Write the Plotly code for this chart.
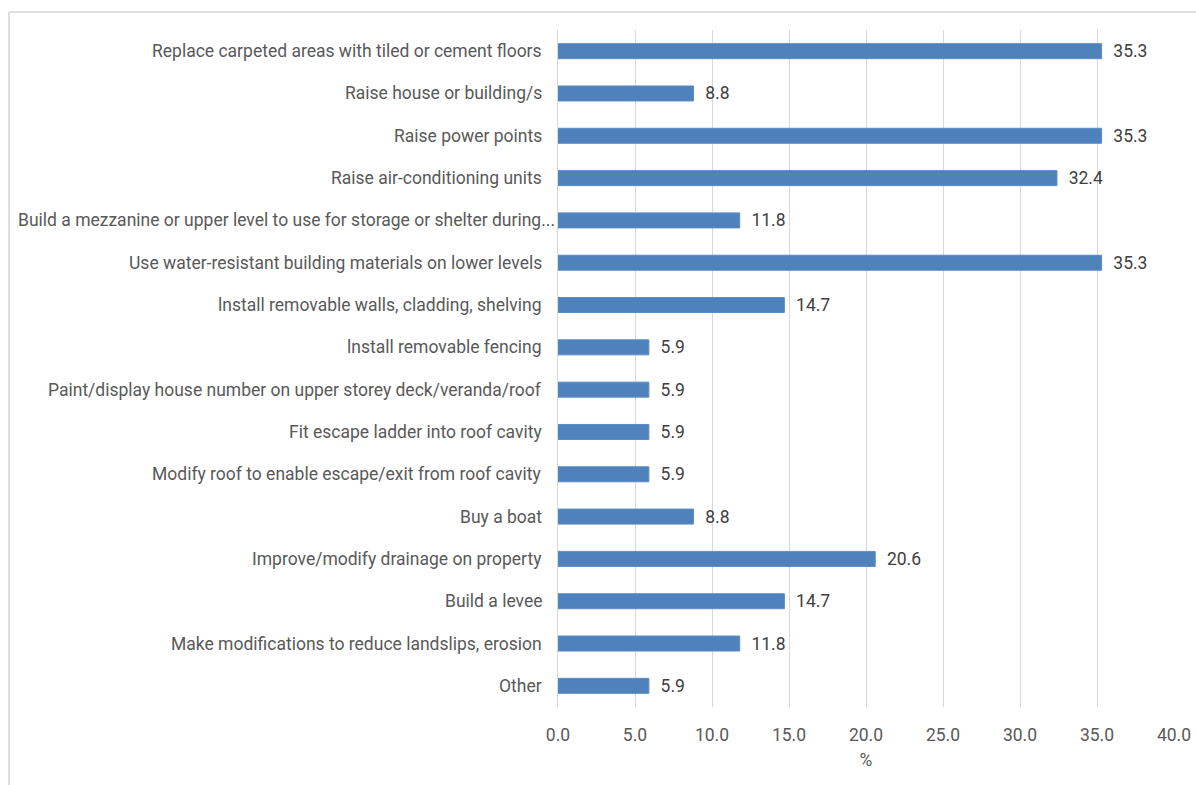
import plotly.graph_objects as go

# Flood adaptation measures and share of respondents (%)
measures = [
    "Replace carpeted areas with tiled or cement floors",
    "Raise house or building/s",
    "Raise power points",
    "Raise air-conditioning units",
    "Build a mezzanine or upper level to use for storage or shelter during...",
    "Use water-resistant building materials on lower levels",
    "lnstall removable walls, cladding, shelving",
    "lnstall removable fencing",
    "Paint/display house number on upper storey deck/veranda/roof",
    "Fit escape ladder into roof cavity",
    "Modify roof to enable escape/exit from roof cavity",
    "Buy a boat",
    "Improve/modify drainage on property",
    "Build a levee",
    "Make modifications to reduce landslips, erosion",
    "Other",
]
percent = [35.3, 8.8, 35.3, 32.4, 11.8, 35.3, 14.7, 5.9, 5.9, 5.9, 5.9, 8.8, 20.6, 14.7, 11.8, 5.9]
x_ticks = [0, 5, 10, 15, 20, 25, 30, 35, 40]

FONT = "Roboto"
SIZE = 17.5
LABEL_GREY = "#595959"
GRID = "#d9d9d9"

fig = go.Figure(
    go.Bar(
        y=measures,
        x=percent,
        orientation="h",
        marker=dict(color="#4f81bd", line=dict(color="#5b8cc6", width=1)),
        text=[f"  {v:.1f}" for v in percent],
        textposition="outside",
        constraintext="none",
        textfont=dict(family=FONT, size=SIZE, color="#404040"),
        cliponaxis=False,
        hoverinfo="skip",
    )
)

# category labels, right-aligned against the axis (truncated label runs up to the axis)
category_labels = [
    dict(
        xref="paper", yref="y", x=0, y=m, text=m, showarrow=False,
        xanchor="right", yanchor="middle",
        xshift=-1 if m.endswith("...") else -14,
        font=dict(family=FONT, size=SIZE, color=LABEL_GREY),
    )
    for m in measures
]

fig.update_layout(
    width=1196,
    height=785,
    margin=dict(l=558, r=22, t=30, b=78),
    paper_bgcolor="white",
    plot_bgcolor="white",
    showlegend=False,
    bargap=0.645,
    font=dict(family=FONT, color=LABEL_GREY),
    annotations=category_labels,
    shapes=[
        # outer chart frame (top and left edges)
        dict(type="line", xref="paper", yref="paper",
             x0=-0.8912, x1=1.1, y0=1.0266, y1=1.0266,
             line=dict(color="#e0e0e0", width=2)),
        dict(type="line", xref="paper", yref="paper",
             x0=-0.8912, x1=-0.8912, y0=1.0266, y1=-0.2,
             line=dict(color="#e0e0e0", width=2)),
    ],
)

fig.update_xaxes(
    range=[0, 40],
    tickvals=x_ticks,
    ticktext=[f"{v:.1f}" for v in x_ticks],
    tickfont=dict(family=FONT, size=SIZE, color=LABEL_GREY),
    showgrid=True,
    gridcolor=GRID,
    gridwidth=1,
    zeroline=False,
    showline=False,
    ticks="",
    automargin=False,
    ticklabelstandoff=15,
    title=dict(text="%", font=dict(family=FONT, size=SIZE, color=LABEL_GREY), standoff=10),
)

fig.update_yaxes(
    autorange="reversed",
    showticklabels=False,
    showgrid=False,
    showline=True,
    linecolor=GRID,
    linewidth=1,
    ticks="",
    automargin=False,
)

fig.write_html("out.html")
